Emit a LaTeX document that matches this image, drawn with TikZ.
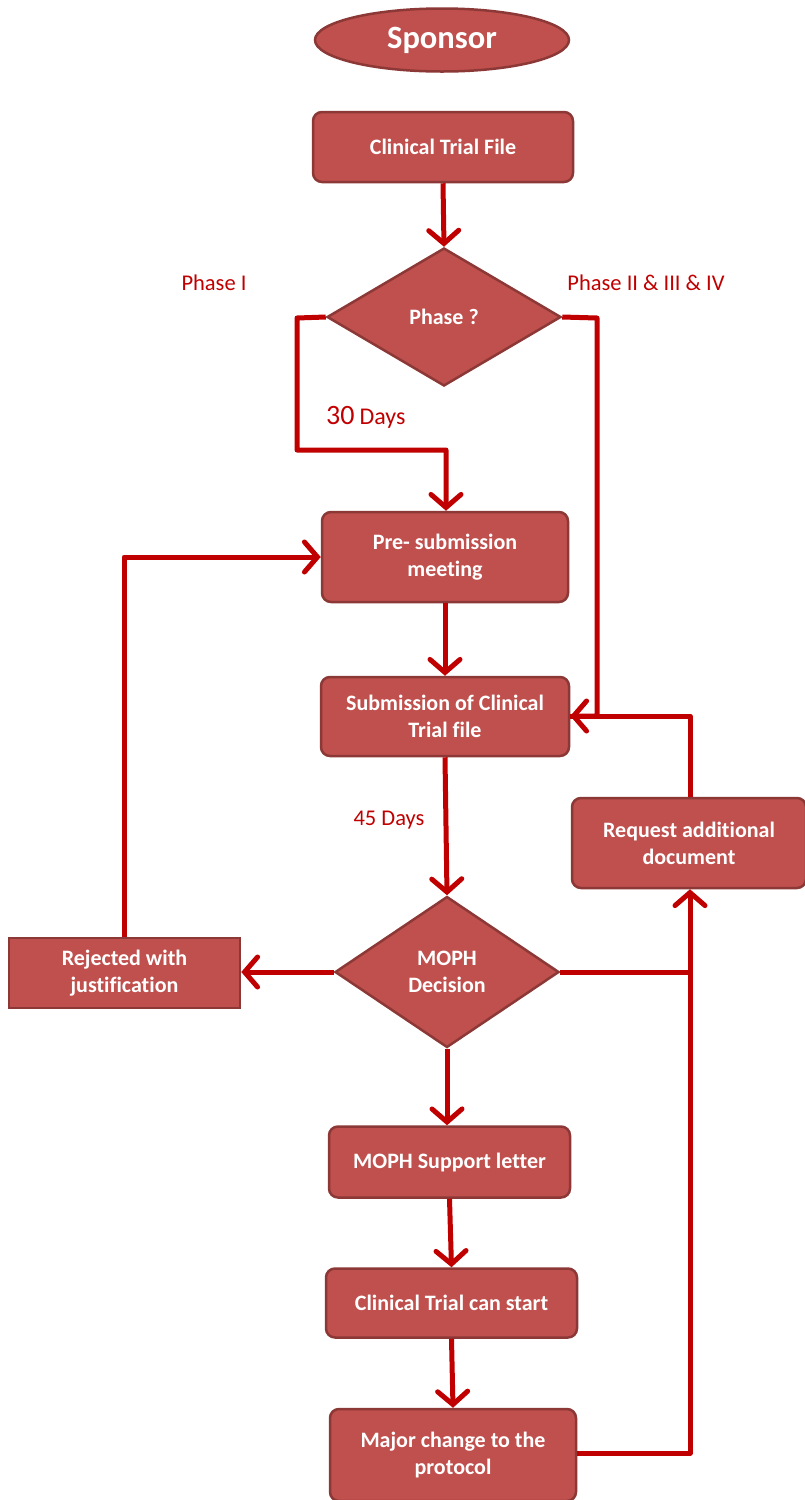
\documentclass[tikz,border=0pt]{standalone}
\usepackage{fontspec}
\setmainfont{Carlito}[Ligatures={NoCommon}]
\usetikzlibrary{shapes.geometric,arrows.meta}
\definecolor{boxfill}{HTML}{C0504D}
\definecolor{boxline}{HTML}{8C3836}
\definecolor{linkred}{HTML}{C00000}
\begin{document}
\begin{tikzpicture}[x=1pt,y=-1pt,
  boxfont/.style={font=\fontsize{22}{27}\selectfont\bfseries},
  box/.style={draw=boxline,fill=boxfill,line width=2.5pt,rounded corners=9pt,text=white,boxfont,align=center,inner sep=0pt},
  sqbox/.style={draw=boxline,fill=boxfill,line width=2.5pt,text=white,boxfont,align=center,inner sep=0pt},
  dia/.style={diamond,draw=boxline,fill=boxfill,line width=2.5pt,text=white,boxfont,align=center,inner sep=0pt},
  link/.style={draw=linkred,line width=5pt,line join=round},
  arr/.style={link,-{Straight Barb[length=13pt,width=30pt,line width=5pt,line cap=round]}},
  lbl/.style={text=linkred,font=\fontsize{22.5}{24}\selectfont,inner sep=0pt}]
\useasboundingbox (0,0) rectangle (804,1500);
% nodes
\node[ellipse,draw=boxline,fill=boxfill,line width=2.5pt,text=white,font=\fontsize{32.5}{34}\selectfont\bfseries,minimum width=254pt,minimum height=63pt,inner sep=0pt] (sp) at (442,40) {Sponsor};
\node[box,minimum width=260pt,minimum height=70pt] (ctf) at (443,147) {Clinical Trial File};
\node[dia,minimum width=234pt,minimum height=138pt,aspect=1.7] (ph) at (444,317) {Phase ?};
\node[box,minimum width=246pt,minimum height=90pt] (pre) at (445,557) {Pre- submission\\meeting};
\node[box,minimum width=248pt,minimum height=79pt] (sub) at (445,716.5) {Submission of Clinical\\Trial file};
\node[dia,minimum width=224pt,minimum height=151pt,aspect=1.48] (md) at (447,972) {MOPH\\Decision};
\node[sqbox,minimum width=231pt,minimum height=70pt] (rej) at (124.5,973) {Rejected with\\justification};
\node[box,minimum width=234pt,minimum height=90pt] (req) at (689,843) {Request additional\\document};
\node[box,minimum width=241pt,minimum height=71pt] (sup) at (449.5,1162) {MOPH Support letter};
\node[box,minimum width=251pt,minimum height=69pt] (cts) at (451.5,1303) {Clinical Trial can start};
\node[box,minimum width=246pt,minimum height=92pt] (maj) at (453,1455) {Major change to the\\protocol};
% labels
\node[lbl] (l1) at (214,283) {Phase I};
\node[lbl] (l2) at (646,283) {Phase II \& III \& IV};
\node[lbl,anchor=base west] (l3) at (326,424) {{\fontsize{28}{30}\selectfont 30} {\fontsize{24}{26}\selectfont Days}};
\node[lbl] (l4) at (389,820) {45 Days};
% coordinates
\coordinate (a1) at (297,318);
\coordinate (a2) at (297,450);
\coordinate (a3) at (446,450);
\coordinate (b1) at (597,318);
\coordinate (b2) at (597,716);
\coordinate (c1) at (124,557);
\coordinate (d1) at (690,716);
\coordinate (e1) at (690,972);
\coordinate (e2) at (690,1453);
% connectors
\draw[arr] (ctf.south -| 443,0) -- (ph.north);
\draw[arr] (ph.west) -- (a1) -- (a2) -- (a3) -- (pre.north -| a3);
\draw[arr] (ph.east) -- (b1) -- (b2) -- (sub.east |- b2);
\draw[arr] (pre.south) -- (sub.north);
\draw[arr] (sub.south) -- (md.north);
\draw[arr] (md.west) -- (rej.east |- md.west);
\draw[arr] (rej.north -| c1) -- (c1) -- (pre.west);
\draw[link] (req.north -| d1) -- (d1) -- (sub.east |- d1);
\draw[link] (md.east) -- (e1);
\draw[arr] (maj.east |- e2) -- (e2) -- (req.south -| e2);
\draw[arr] (md.south) -- (sup.north -| md.south);
\draw[arr] (sup.south) -- (cts.north);
\draw[arr] (cts.south) -- (maj.north);
\end{tikzpicture}
\end{document}
